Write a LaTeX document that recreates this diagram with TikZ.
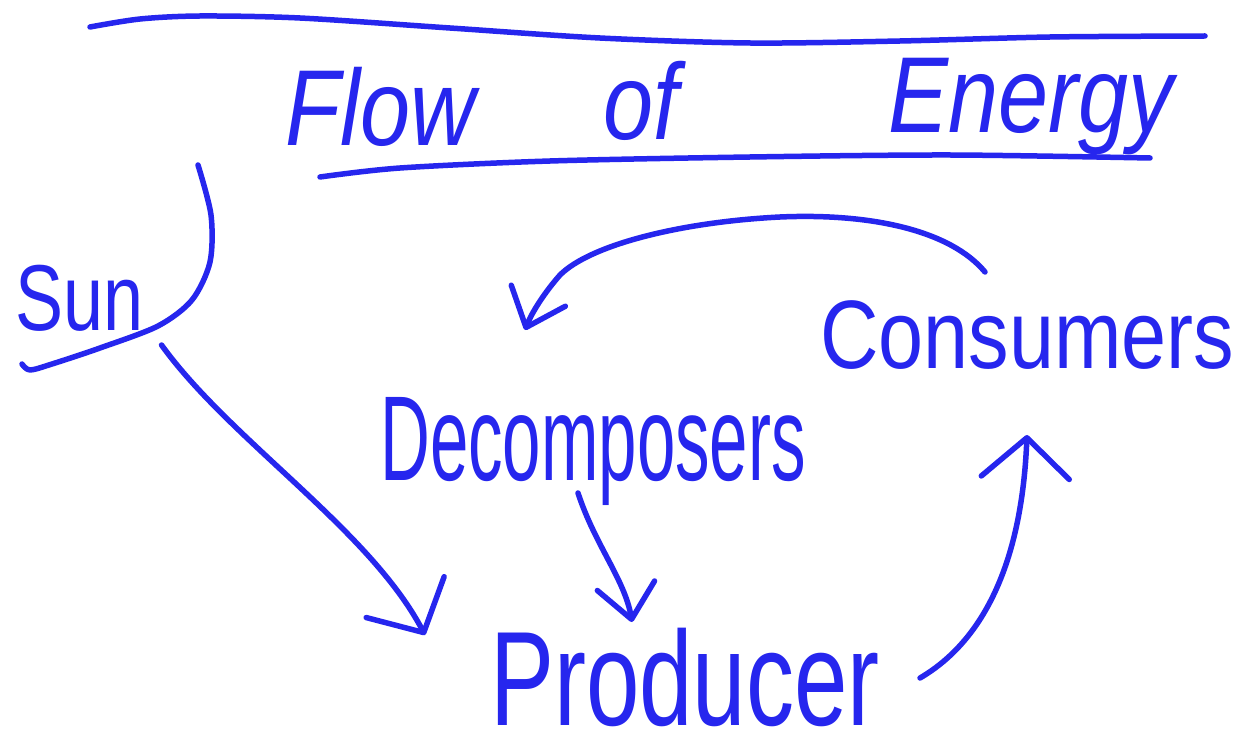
\documentclass[tikz,border=0pt]{standalone}
\usepackage{fontspec}
\setmainfont{Liberation Sans}
\usetikzlibrary{arrows.meta,calc}
\definecolor{ink}{RGB}{38,38,238}
\begin{document}
\begin{tikzpicture}[x=1pt,y=-1pt,
  stroke/.style={draw=ink,line width=5.5pt,line cap=round,line join=round},
  word/.style={text=ink,inner sep=0pt,anchor=base west},
  bighead/.style={-{Straight Barb[length=40pt,width=88pt,round]}},
  midhead/.style={-{Straight Barb[length=34pt,width=58pt,round]}}
]
\useasboundingbox (0,0) rectangle (1248,754);
\fill[white] (0,0) rectangle (1248,754);

% title
\node[word,font=\fontsize{90}{90}\selectfont\itshape] (flow) at (285,146) {\scalebox{1}[1.2]{Flow}};
\node[word,font=\fontsize{90}{90}\selectfont\itshape] (of) at (603,140) {\scalebox{1}[1.2]{of}};
\node[word,font=\fontsize{90}{90}\selectfont\itshape] (energy) at (888,133) {\scalebox{1}[1.2]{Energy}};
\draw[stroke] plot[smooth] coordinates {(90,27) (140,19) (200,16) (300,18) (450,28) (600,38) (750,43) (900,41) (1050,37) (1205,36)};
\draw[stroke] plot[smooth] coordinates {(320,177) (400,168) (550,161) (750,157) (950,155) (1150,158)};

% words
\node[word,font=\fontsize{72}{72}\selectfont] (sun) at (15,330) {\scalebox{1}[1.3]{Sun}};
\node[word,font=\fontsize{69}{69}\selectfont] (decomp) at (380,480) {\scalebox{1}[1.75]{Decomposers}};
\node[word,font=\fontsize{81}{81}\selectfont] (consum) at (820,368) {\scalebox{1}[1.2]{Consumers}};
\node[word,font=\fontsize{96}{96}\selectfont] (prod) at (490,725) {\scalebox{1}[1.4]{Producer}};

% sun bracket
\draw[stroke] plot[smooth] coordinates {(198,165) (211,215) (210,262) (192,300) (158,326) (100,348) (52,364) (30,370) (22,364)};

% connectors
\draw[stroke,bighead] ($(sun.base east)+(18,15)$) .. controls (230,440) and (370,530) .. ($(prod.base west)+(-65,-90)$);
\draw[stroke,midhead] ($(consum.base west)+(165,-96)$) .. controls (950,230) and (870,213) .. (780,217) .. controls (680,222) and (590,245) .. (560,275) .. controls (545,292) and (532,312) .. ($(decomp.base west)+(145,-150)$);
\draw[stroke,midhead] ($(decomp.base west)+(198,13)$) .. controls (595,545) and (625,580) .. ($(prod.base west)+(142,-103)$);
\draw[stroke,bighead] ($(prod.base west)+(430,-47)$) .. controls (985,640) and (1022,560) .. ($(consum.base west)+(207,67)$);
\end{tikzpicture}
\end{document}
